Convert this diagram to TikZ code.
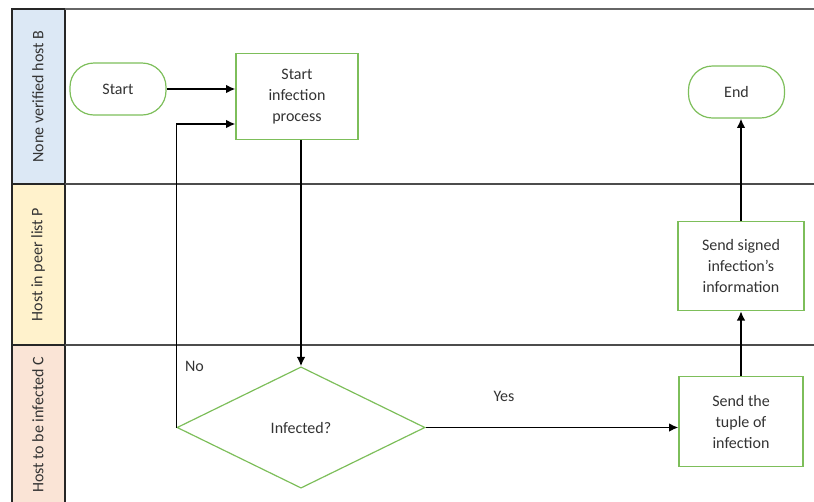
\documentclass[tikz,border=0pt]{standalone}
\usepackage{fontspec}
\setmainfont{Carlito}
\usetikzlibrary{shapes.geometric, positioning, arrows.meta}
\usepackage{xcolor}
\definecolor{flowgreen}{RGB}{125,190,90}
\definecolor{laneblue}{RGB}{220,232,245}
\definecolor{laneyellow}{RGB}{255,242,204}
\definecolor{lanerose}{RGB}{250,228,214}

\begin{document}
\begin{tikzpicture}[->,>={Latex[length=7pt,width=6.5pt]},x=0.75pt,y=-0.75pt,line width=1.3pt,
		font=\fontsize{12}{15.75}\selectfont,text=black!80]
		\tikzstyle{step box}=[draw=flowgreen,line width=0.9pt,rectangle,align=center,
			inner sep=2pt,minimum width=93pt,minimum height=67pt]
		\tikzstyle{term}=[draw=flowgreen,line width=0.9pt,rectangle,rounded corners=18pt,
			minimum width=72pt,minimum height=39pt]
		\tikzstyle{decision}=[draw=flowgreen,line width=0.9pt,diamond,inner sep=0pt,
			minimum width=186pt,minimum height=91pt]
		\tikzstyle{lane}=[-,draw=black!85,line width=1.2pt]
		\tikzstyle{lane label}=[rotate=90]
		\useasboundingbox (0,0) rectangle (814,501);

		% swimlanes
		\draw[lane,fill=laneblue] (12,9) rectangle (65,184);
		\draw[lane,fill=laneyellow] (12,184) rectangle (65,345);
		\draw[lane,fill=lanerose] (12,345) rectangle (65,505);
		\draw[-,draw=black!60,line width=1pt] (65,9) -- (814,9);
		\draw[-,draw=black!70,line width=1.1pt] (65,184) -- (814,184);
		\draw[-,draw=black!70,line width=1.1pt] (65,345) -- (814,345);
		\node[lane label] (laneB) at (38,96.5) {None verified host B};
		\node[lane label] (laneP) at (38,264.5) {Host in peer list P};
		\node[lane label] (laneC) at (38,425) {Host to be infected C};

		% flow
		\node[term] (start) at (118,89) {Start};
		\node[step box,minimum width=91.5pt,minimum height=65pt] (infect) at (297,96.5) {Start\\infection\\process};
		\node[decision] (check) at (301,427.5) {Infected?};
		\node[step box] (tuple) at (741,421.5) {Send the\\tuple of\\infection};
		\node[step box,minimum width=94.5pt] (signed) [above=48.75pt of tuple] {Send signed\\infection's\\information};
		\node[term] (end) at (736.5,92) {End};
		\coordinate (back) at (infect.west |- 0,124);

		\draw (start.east) -- (start.east -| infect.west);
		\draw (check.north |- infect.south) -- (check.north);
		\draw (check.west) |- (back) node[pos=0.1,xshift=13.5pt] {No};
		\draw (check.east) -- (check.east -| tuple.west) node[pos=0.31,yshift=23pt] {Yes};
		\draw (tuple.north) -- (tuple.north |- signed.south);
		\draw (signed.north) -- (signed.north |- end.south);
	\end{tikzpicture}
\end{document}
